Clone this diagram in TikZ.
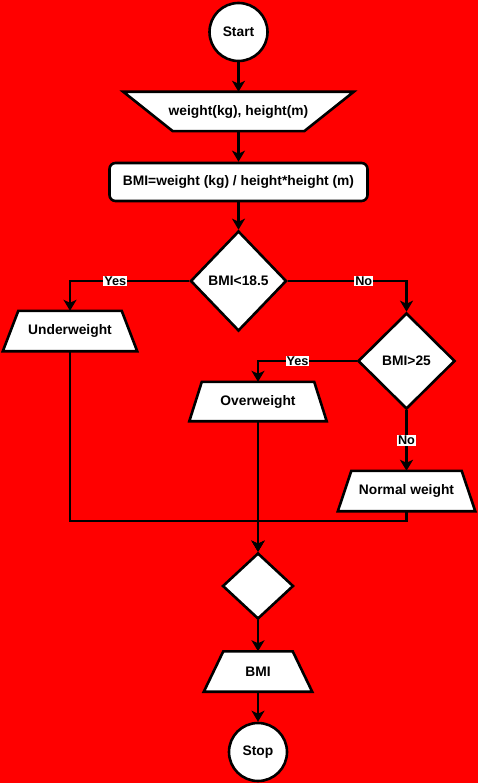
\documentclass[tikz,border=0pt]{standalone}
\usepackage{fontspec}
\setmainfont{Liberation Sans}
\usetikzlibrary{shapes.geometric,arrows.meta,calc}
\pgfdeclarelayer{bg}
\pgfsetlayers{bg,main}
\begin{document}
\begin{tikzpicture}[x=1pt,y=-1pt,font=\fontsize{13.8}{15}\selectfont\bfseries]
     \tikzstyle{flownode}=[draw,line width=2.6pt,fill=white,inner sep=0pt]
     \tikzstyle{termnode}=[flownode,circle,minimum size=58pt]
     \tikzstyle{ionode}=[rectangle,inner sep=0pt]
     \tikzstyle{ioline}=[draw,line width=2.6pt,fill=white]
     \tikzstyle{procnode}=[flownode,rectangle,rounded corners=6pt,minimum width=258pt,minimum height=38pt]
     \tikzstyle{decnode}=[flownode,diamond]
     \tikzstyle{answernode}=[fill=white,inner sep=1pt,font=\fontsize{12.7}{13}\selectfont\bfseries]
     \tikzstyle{flowline}=[draw,line width=2.6pt,-{Stealth[length=11pt,width=13pt,inset=3pt]}]
     \begin{pgfonlayer}{bg}
       \fill[red] (0,0) rectangle (478,783);
     \end{pgfonlayer}
     \useasboundingbox (0,0) rectangle (478,783);
     \node[termnode] (start) at (238.5,32) {Start};
     \node[ionode,minimum width=230pt,minimum height=39pt] (input) at (238.5,111.5) {weight(kg), height(m)};
     \node[procnode] (proc) at (238.5,182) {BMI=weight (kg) / height*height (m)};
     \node[decnode,minimum width=96pt,minimum height=100pt] (d1) at (238.5,281) {BMI<18.5};
     \node[ionode,minimum width=134pt,minimum height=40pt] (under) at (70,331) {Underweight};
     \node[decnode,minimum width=97pt,minimum height=96pt] (d2) at (406.5,361) {BMI>25};
     \node[ionode,minimum width=137pt,minimum height=39pt] (over) at (258,401.5) {Overweight};
     \node[ionode,minimum width=137pt,minimum height=40pt] (normal) at (406.5,491) {Normal weight};
     \node[decnode,minimum width=71pt,minimum height=66pt] (merge) at (258,586) {};
     \node[ionode,minimum width=108pt,minimum height=40pt] (bmi) at (258,671.5) {BMI};
     \node[termnode] (stop) at (258,752) {Stop};
     % trapezium outlines go under the texts
     \begin{pgfonlayer}{bg}
       \draw[ioline] (input.north west) -- (input.north east) -- ($(input.south east)-(49.5,0)$) -- ($(input.south west)+(49.5,0)$) -- cycle;
       \foreach \n/\e in {under/15.5,over/12.5,normal/13.5,bmi/19.5}
         \draw[ioline] (\n.south west) -- ($(\n.north west)+(\e,0)$) -- ($(\n.north east)-(\e,0)$) -- (\n.south east) -- cycle;
     \end{pgfonlayer}
     \coordinate (join) at (258,521);
     \draw[flowline] (start) -- (input);
     \draw[flowline] (input) -- (proc);
     \draw[flowline] (proc) -- (d1);
     \draw[flowline] (d1.west) -| node[answernode,pos=0.31] {Yes} (under.north);
     \draw[flowline] (d1.east) -| node[answernode,pos=0.32] {No} (d2.north);
     \draw[flowline] (d2.west) -| node[answernode,pos=0.3] {Yes} (over.north);
     \draw[flowline] (d2.south) -- node[answernode] {No} (normal.north);
     \draw[flowline] (under.south) |- (join) -- (merge.north);
     \draw[flowline] (normal.south) |- (join) -- (merge.north);
     \draw[flowline] (over.south) -- (merge.north);
     \draw[flowline] (merge) -- (bmi);
     \draw[flowline] (bmi) -- (stop);
    \end{tikzpicture}
\end{document}
